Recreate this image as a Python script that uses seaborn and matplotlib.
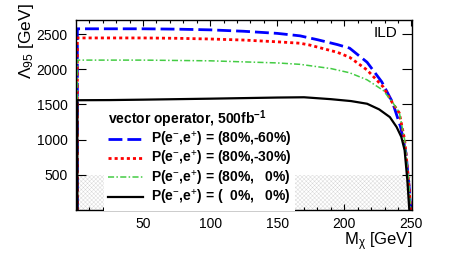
import numpy as np
import pandas as pd
import matplotlib
matplotlib.use("Agg")
import matplotlib.pyplot as plt
import seaborn as sns

# Lambda_95 limits vs WIMP mass, vector operator, 500 fb^-1
m_pol_60 = [1, 1, 25, 50, 75, 100, 125, 150, 167, 180, 195, 204, 217, 228, 236, 242, 246, 248.5, 249.5]
lam_pol_60 = [0, 2575, 2575, 2575, 2570, 2560, 2540, 2510, 2475, 2420, 2350, 2300, 2100, 1820, 1530, 1180, 810, 300, 0]

m_pol_30 = [1, 1, 25, 50, 75, 100, 125, 150, 167, 174, 195, 204, 217, 229, 236, 241, 245, 248, 249.5]
lam_pol_30 = [0, 2445, 2445, 2445, 2440, 2430, 2415, 2390, 2370, 2345, 2240, 2170, 1990, 1750, 1520, 1380, 1000, 400, 0]

m_pol_0 = [1, 1, 50, 100, 150, 167, 190, 204, 217, 229, 236, 241, 245, 248, 249.5]
lam_pol_0 = [0, 2130, 2130, 2120, 2090, 2070, 2010, 1950, 1850, 1700, 1530, 1390, 1000, 400, 0]

m_unpol = [1, 1, 25, 50, 75, 100, 125, 150, 170, 190, 205, 217, 226, 234, 239, 242.5, 245, 247, 248.5]
lam_unpol = [0, 1560, 1562, 1568, 1575, 1582, 1590, 1598, 1602, 1575, 1548, 1510, 1430, 1320, 1180, 1040, 850, 430, 0]

labels = [
    r"P(e$^{-}$,e$^{+}$) = (80%,-60%)",
    r"P(e$^{-}$,e$^{+}$) = (80%,-30%)",
    r"P(e$^{-}$,e$^{+}$) = (80%,   0%)",
    r"P(e$^{-}$,e$^{+}$) = (  0%,   0%)",
]
colors = ["#0000ff", "#ff0000", "#44cc44", "#000000"]

# region below 500 GeV not covered (hatched)
excluded_lambda = 500
m_range = [0, 250]

plt.rcParams["font.family"] = ["Liberation Sans", "DejaVu Sans"]
plt.rcParams["mathtext.fontset"] = "custom"
plt.rcParams["mathtext.rm"] = "Liberation Sans"
plt.rcParams["mathtext.it"] = "Liberation Sans:italic"
plt.rcParams["mathtext.bf"] = "Liberation Sans:bold"
plt.rcParams["hatch.linewidth"] = 0.3

fig = plt.figure(figsize=(4.49, 2.58), dpi=100)
ax = fig.add_axes([76 / 449, 1 - 210 / 258, 336 / 449, 190 / 258])

ax.fill_between(m_range, 0, excluded_lambda, facecolor="none",
                edgecolor="#d4d4d4", hatch="xxxxxxxx", linewidth=0)

series = [
    (m_pol_60, lam_pol_60, dict(lw=2.0, dashes=(5, 1.8))),
    (m_pol_30, lam_pol_30, dict(lw=2.0, dashes=(1.1, 1.1))),
    (m_pol_0, lam_pol_0, dict(lw=1.1, dashes=(4, 1.5, 1, 1.5))),
    (m_unpol, lam_unpol, dict(lw=1.6)),
]
for (m, lam, style), lab, col in zip(series, labels, colors):
    df = pd.DataFrame({"m": m, "lam": lam})
    sns.lineplot(data=df, x="m", y="lam", ax=ax, color=col, label=lab,
                 estimator=None, sort=False, **style)

ax.set_xlim(0, 250.5)
ax.set_ylim(0, 2700)
ax.set_xticks([50, 100, 150, 200, 250])
ax.set_xticks(np.arange(10, 251, 10), minor=True)
ax.set_yticks([500, 1000, 1500, 2000, 2500])
ax.tick_params(axis="both", which="both", direction="in", top=True, right=True,
               labelsize=10, width=0.8)
ax.tick_params(axis="x", which="major", length=4, pad=5)
ax.tick_params(axis="x", which="minor", length=2)
ax.tick_params(axis="y", which="major", length=7, pad=6)
for s in ax.spines.values():
    s.set_linewidth(1.0)

ax.set_xlabel(r"M$_{\mathrm{\chi}}$ [GeV]", fontsize=12, loc="right")
ax.xaxis.set_label_coords(1.0, -0.105)
ax.set_ylabel(r"$\Lambda_{95}$ [GeV]", fontsize=12.5, loc="top")
ax.yaxis.set_label_coords(-0.118, 1.09)

ax.text(0.955, 0.93, "ILD", transform=ax.transAxes, ha="right", va="center", fontsize=11)

leg = ax.legend(loc="upper left", bbox_to_anchor=(104 / 449, 1 - 104 / 258),
                bbox_transform=fig.transFigure, frameon=True, fancybox=False,
                framealpha=1, edgecolor="none", facecolor="white",
                handlelength=2.5, handletextpad=0.55, labelspacing=0.02,
                borderpad=0.3, borderaxespad=0,
                title=r"vector operator, 500fb$^{\mathbf{-1}}$",
                prop={"weight": "bold", "size": 10},
                title_fontproperties={"weight": "bold", "size": 10},
                alignment="left")
leg.get_frame().set_linewidth(0)

fig.savefig("out.png", dpi=100)
